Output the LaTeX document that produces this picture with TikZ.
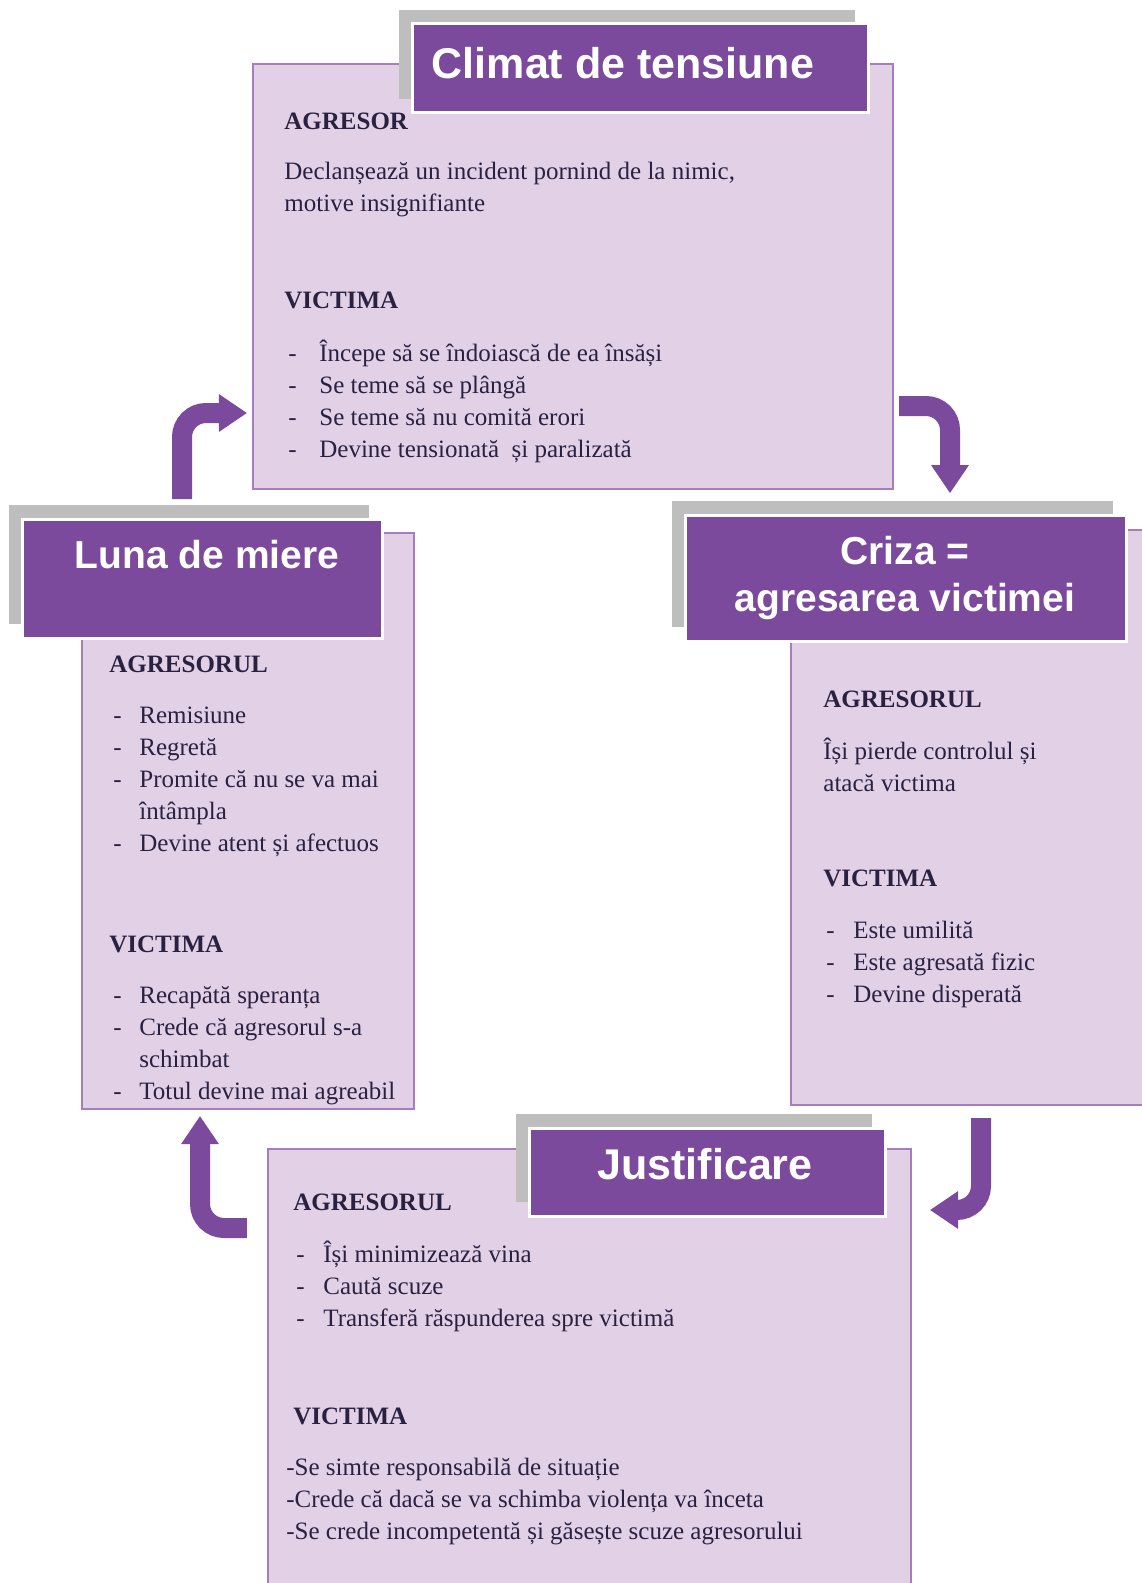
\documentclass[tikz,border=0pt]{standalone}
\usepackage{fontspec}
\setmainfont{Liberation Serif}
\newfontfamily\headfont{Liberation Sans}
\usetikzlibrary{arrows.meta,fit}

\definecolor{violetbar}{HTML}{7C4A9C}
\definecolor{lilac}{HTML}{E2D0E7}
\definecolor{lilacline}{HTML}{A87DBD}
\definecolor{shadowgrey}{HTML}{BEBEBE}
\definecolor{inktext}{HTML}{2A2140}

\newcommand{\itm}[1][13.5pt]{\makebox[#1][l]{-}}
\newcommand{\cont}[1][13.5pt]{\hspace*{#1}}

\tikzstyle{panel}=[rectangle, draw=lilacline, line width=1.2pt, fill=lilac, inner sep=0pt]
\tikzstyle{titlebar}=[rectangle, fill=violetbar, draw=white, line width=1.5pt, inner sep=0pt, preaction={fill=shadowgrey, transform canvas={shift={(-13,-14)}}}]
\tikzstyle{titletext}=[text=white, font=\headfont\bfseries\fontsize{21.5}{24}\selectfont, align=center, inner sep=0pt]
\tikzstyle{smalltitle}=[titletext, font=\headfont\bfseries\fontsize{19.5}{23.5}\selectfont]
\tikzstyle{head}=[anchor=base west, inner sep=0pt, text=inktext, font=\bfseries\fontsize{12.5}{16}\selectfont]
\tikzstyle{body}=[anchor=north west, inner sep=0pt, text=inktext, align=left, font=\fontsize{12.5}{16}\selectfont, execute at begin node=\strut]
\tikzstyle{arrow1}=[violetbar, line width=10pt, rounded corners=12pt, -{Triangle[width=19pt,length=14pt,line width=0pt]}]

\begin{document}
\begin{tikzpicture}[x=0.5pt, y=-0.5pt]
\fill[white] (0,0) rectangle (1141,1583);
\useasboundingbox (0,0) rectangle (1141,1583);

\node (climatbox) [panel, fit={(253,64) (893,489)}] {};
\node (lunabox) [panel, fit={(82,533) (414,1109)}] {};
\node (crizabox) [panel, fit={(791,530) (1160,1105)}] {};
\node (justbox) [panel, fit={(268,1149) (911,1600)}] {};

\node (climatbar) [titlebar, fit={(412,24) (868,113)}] {};
\node (lunabar) [titlebar, fit={(22,519) (382,638)}] {};
\node (crizabar) [titlebar, fit={(685,515) (1126,641)}] {};
\node (justbar) [titlebar, fit={(529,1128) (885,1216)}] {};

\node (climattitle) [titletext] at (623,63) {Climat de tensiune};
\node (lunatitle) [smalltitle] at (207,555) {Luna de miere};
\node (crizatitle) [smalltitle] at (905,578) {Criza =\\agresarea victimei};
\node (justtitle) [titletext] at (705,1164) {Justificare};

\node (climatagr) [head] at (284,130) {AGRESOR};
\node (climatagrtext) [body] at (284,162) {Declanșează un incident pornind de la nimic,\\motive insignifiante};
\node (climatvic) [head] at (284,309) {VICTIMA};
\node (climatvictext) [body] at (288,340) {\itm[15.5pt]Începe să se îndoiască de ea însăși\\\itm[15.5pt]Se teme să se plângă\\\itm[15.5pt]Se teme să nu comită erori\\\itm[15.5pt]Devine tensionată\ \ și paralizată};

\node (lunaagr) [head] at (109,672) {AGRESORUL};
\node (lunaagrtext) [body] at (113,707) {\itm[13pt]Remisiune\\\itm[13pt]Regretă\\\itm[13pt]Promite că nu se va mai\\\cont[13pt]întâmpla\\\itm[13pt]Devine atent și afectuos};
\node (lunavic) [head] at (109,952) {VICTIMA};
\node (lunavictext) [body] at (113,986) {\itm[13pt]Recapătă speranța\\\itm[13pt]Crede că agresorul s-a\\\cont[13pt]schimbat\\\itm[13pt]Totul devine mai agreabil};

\node (crizaagr) [head] at (823,707) {AGRESORUL};
\node (crizaagrtext) [body] at (823,738) {Își pierde controlul și\\atacă victima};
\node (crizavic) [head] at (823,886) {VICTIMA};
\node (crizavictext) [body] at (826,921) {\itm Este umilită\\\itm Este agresată fizic\\\itm Devine disperată};

\node (justagr) [head] at (293,1210) {AGRESORUL};
\node (justagrtext) [body] at (296,1241) {\itm Își minimizează vina\\\itm Caută scuze\\\itm Transferă răspunderea spre victimă};
\node (justvic) [head] at (293,1424) {VICTIMA};
\node (justvictext) [body] at (286,1458) {-Se simte responsabilă de situație\\-Crede că dacă se va schimba violența va înceta\\-Se crede incompetentă și găsește scuze agresorului};

\coordinate (lunaout) at (182,499);
\coordinate (crizain) at (950,493);
\draw[arrow1, shorten >=2.5pt] (lunaout) |- (climatbox.west |- 0,413);
\draw[arrow1, shorten <=2.5pt] (climatbox.east |- 0,406) -| (crizain);
\draw[arrow1, shorten <=6pt, shorten >=9pt] (crizabox.south -| 981,0) |- (justbox.east |- 0,1210);
\draw[arrow1, shorten <=10pt, shorten >=3pt] (justbox.west |- 0,1228) -| (lunabox.south -| 200,0);
\end{tikzpicture}
\end{document}
